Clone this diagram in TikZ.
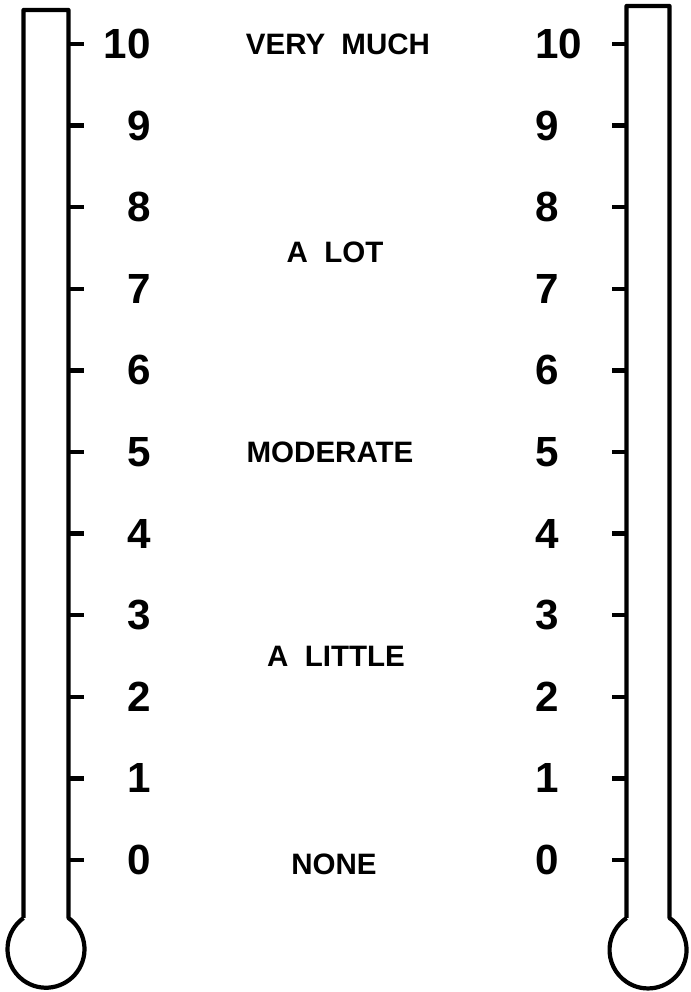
\documentclass[tikz,border=0pt]{standalone}
\usepackage{fontspec}
\setmainfont{Liberation Sans}
\usetikzlibrary{positioning}

\begin{document}
\begin{tikzpicture}[
  x=0.025cm, y=0.025cm,
  tube/.style={line width=3pt, line join=round},
  tick/.style={line width=3pt},
  number/.style={font=\fontsize{30}{32}\bfseries\selectfont, inner sep=0pt},
  verbal/.style={font=\fontsize{21}{24}\bfseries\selectfont, inner sep=0pt,
    execute at begin node={\spaceskip=0.55em\relax}}
]
\useasboundingbox (0,0) rectangle (690,992);

% left thermometer
\draw[tube] (23.5,74) -- (23.5,982) -- (68.5,982) -- (68.5,74)
  arc[start angle=54.2, end angle=-234.2, radius=38.5];
% right thermometer
\draw[tube] (626.5,74) -- (626.5,986) -- (669.5,986) -- (669.5,74)
  arc[start angle=56.1, end angle=-236.1, radius=38.5];

% scale marks and numbers
\foreach \n in {0,...,10} {
  \draw[tick] (68.5,132+81.6*\n) -- (84,132+81.6*\n);
  \draw[tick] (612,132+81.6*\n) -- (626.5,132+81.6*\n);
  \node[number, anchor=east] (left\n) at (151,132+81.6*\n) {\n};
  \node[number, anchor=west] (right\n) at (535,132+81.6*\n) {\n};
}

% verbal anchors
\node[verbal] (verymuch) at (338,948) {VERY MUCH};
\node[verbal] (alot) at (335,740) {A LOT};
\node[verbal] (moderate) at (330,540) {MODERATE};
\node[verbal] (alittle) at (336,336) {A LITTLE};
\node[verbal] (none) at (334,128) {NONE};

\end{tikzpicture}
\end{document}
